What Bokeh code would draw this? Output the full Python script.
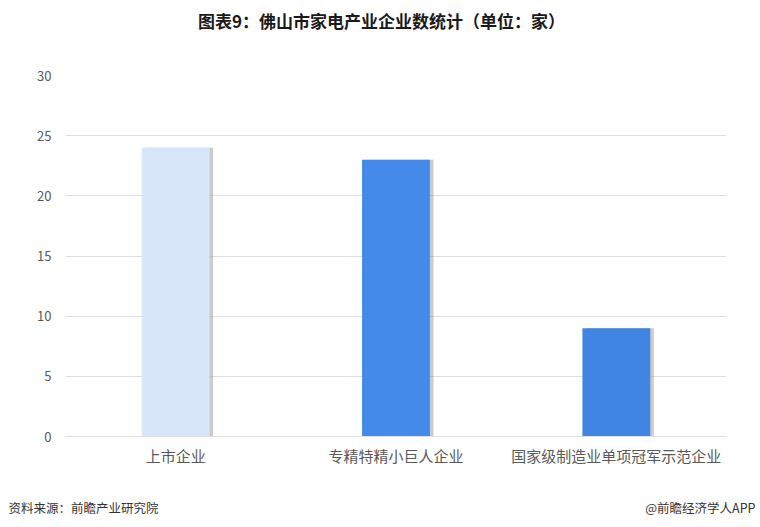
from bokeh.plotting import figure
from bokeh.models import ColumnDataSource, Label, Range1d
from bokeh.layouts import column, row
from bokeh.transform import dodge
from bokeh.embed import file_html
from bokeh.resources import INLINE

categories = ["上市企业", "专精特精小巨人企业", "国家级制造业单项冠军示范企业"]
values = [24, 23, 9]
colors = ["#d7e6f9", "#448aea", "#4185e3"]
y_ticks = [0, 5, 10, 15, 20, 25, 30]
title_text = "图表9：佛山市家电产业企业数统计（单位：家）"
source_text = "资料来源：前瞻产业研究院"
brand_text = "@前瞻经济学人APP"

FONT = "Noto Sans CJK SC"
W = 760


def text_strip(height, labels):
    f = figure(width=W, height=height, x_range=Range1d(0, W), y_range=Range1d(0, height),
               output_backend="svg", toolbar_location=None,
               x_axis_location=None, y_axis_location=None, min_border=0)
    f.grid.visible = False
    f.outline_line_color = None
    f.border_fill_color = "white"
    for lab in labels:
        f.add_layout(lab)
    return f


header = text_strip(40, [Label(x=381, y=20, text=title_text, text_font=FONT,
                               text_font_size="17px", text_font_style="bold",
                               text_color="#1a1a1a", text_align="center",
                               text_baseline="middle")])

src = ColumnDataSource(dict(cat=categories, val=values, color=colors))

p = figure(x_range=categories, y_range=Range1d(0, 30), width=W, height=447,
           output_backend="svg", toolbar_location=None,
           min_border_left=65, min_border_right=34, min_border_top=35, min_border_bottom=51)
p.outline_line_color = None
p.background_fill_color = "white"
p.border_fill_color = "white"

# soft shadow
p.vbar(x=dodge("cat", 0.016, range=p.x_range), top="val", width=0.308, source=src,
       fill_color="#8c8c8c", fill_alpha=0.45, line_color=None)
p.vbar(x="cat", top="val", width=0.308, source=src, fill_color="color", line_color=None)

p.ygrid.grid_line_color = "#dedede"
p.ygrid.grid_line_width = 1
p.xgrid.grid_line_color = None

p.yaxis.ticker = y_ticks
p.yaxis.axis_line_color = None
p.yaxis.major_tick_line_color = None
p.yaxis.minor_tick_line_color = None
p.yaxis.major_label_text_font = FONT
p.yaxis.major_label_text_font_size = "13px"
p.yaxis.major_label_text_color = "#595959"
p.yaxis.major_label_standoff = 8

p.xaxis.axis_line_color = "#dedede"
p.xaxis.major_tick_line_color = None
p.xaxis.minor_tick_line_color = None
p.xaxis.major_label_text_font = FONT
p.xaxis.major_label_text_font_size = "15px"
p.xaxis.major_label_text_color = "#595959"
p.xaxis.major_label_standoff = 2

footer = text_strip(40, [
    Label(x=8, y=20, text=source_text, text_font=FONT, text_font_size="12.5px",
          text_color="#333333", text_align="left", text_baseline="middle"),
    Label(x=W - 5, y=20, text=brand_text, text_font=FONT, text_font_size="12.5px",
          text_color="#333333", text_align="right", text_baseline="middle"),
])

layout = column(row(header), p, row(footer), spacing=0)
open("out.html", "w").write(file_html(layout, INLINE))
